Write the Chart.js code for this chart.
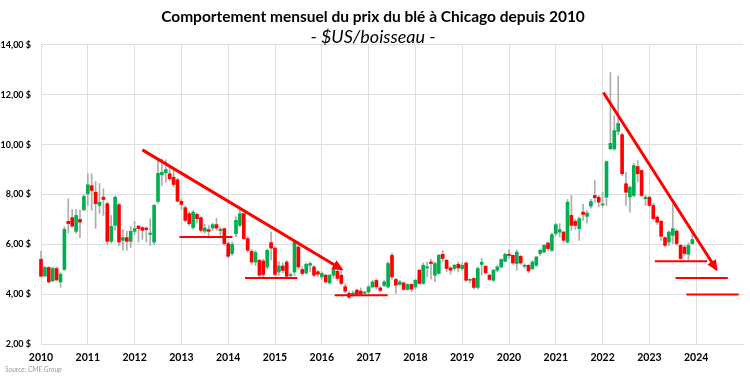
<!DOCTYPE html>
<html>
<head>
<meta charset="utf-8">
<script src="https://cdn.jsdelivr.net/npm/chart.js@4/dist/chart.umd.min.js"></script>
<style>
  html, body { margin: 0; padding: 0; background: #ffffff; }
  #wrap { position: relative; width: 750px; height: 376px; }
  #source { position: absolute; left: 5px; top: 365px; font-family: Lato, "Open Sans", sans-serif; font-style: italic; font-size: 7px; color: #9a9a9a; }
</style>
</head>
<body>
<div id="wrap">
  <canvas id="c" width="750" height="376"></canvas>
  <div id="source">Source: CME Group</div>
</div>
<script>
// Monthly candles, Jan 2010 .. Dec 2023 (month index 0 = Jan 2010)
const startYear = 2010;
const yearTicks = [2010, 2011, 2012, 2013, 2014, 2015, 2016, 2017, 2018, 2019, 2020, 2021, 2022, 2023, 2024];

const opens = [
  5.40,4.73,5.07,4.53,5.03,4.49,4.99,6.92,7.07,6.52,7.00,7.39,
  8.03,8.35,8.09,7.56,7.89,7.63,6.12,6.76,7.59,6.16,6.27,6.12,
  6.52,6.73,6.67,6.65,6.40,6.09,7.72,8.79,8.87,8.83,8.69,8.59,
  7.73,7.47,7.23,6.67,7.20,7.07,6.53,6.59,6.65,6.79,6.55,6.63,
  6.03,5.63,6.43,6.76,7.23,6.23,5.72,5.29,5.36,5.33,5.09,6.07,
  5.85,4.89,5.13,5.29,4.75,4.89,5.89,4.99,4.85,5.16,5.09,4.90,
  4.69,4.76,4.45,4.76,4.92,4.76,4.30,4.03,3.95,4.16,4.12,4.05,
  4.09,4.29,4.55,4.25,4.35,4.29,5.56,4.59,4.39,4.45,4.19,4.39,
  4.29,4.96,4.43,5.05,5.29,4.76,4.83,5.60,5.36,5.05,5.03,5.20,
  5.03,5.25,4.56,4.63,4.27,5.19,5.12,4.76,4.56,4.96,5.09,5.32,
  5.60,5.56,5.23,5.52,5.12,5.16,5.02,5.16,5.63,5.69,6.05,5.76,
  6.43,6.49,6.49,6.09,7.16,6.92,6.63,7.29,7.12,7.53,7.96,7.89,
  7.58,7.89,9.83,9.83,10.53,10.40,8.43,7.90,7.96,9.12,8.96,7.83,
  7.89,7.56,7.09,6.93,6.27,6.09,6.36,6.53,5.96,5.89,5.60,6.03
];
const closes = [
  4.72,5.07,4.49,5.03,4.57,4.80,6.60,6.83,6.73,7.16,6.89,7.92,
  8.39,8.16,7.63,7.69,7.80,6.12,6.72,7.89,6.09,6.27,6.12,6.52,
  6.63,6.63,6.56,6.59,6.45,7.56,8.85,8.89,9.00,8.63,8.40,7.73,
  7.60,6.96,6.83,7.29,7.03,6.56,6.65,6.52,6.79,6.65,6.60,6.03,
  5.52,6.00,6.96,7.23,6.23,5.76,5.29,5.67,4.76,4.79,5.76,5.85,
  4.79,5.13,4.95,4.72,4.78,6.09,5.09,4.83,5.20,5.23,4.76,4.80,
  4.83,4.49,4.76,4.99,4.63,4.43,4.12,3.87,4.05,4.00,4.00,4.07,
  4.29,4.49,4.29,4.15,4.49,5.23,4.69,4.36,4.49,4.19,4.39,4.20,
  4.56,4.43,5.16,5.10,5.23,5.23,5.56,5.43,5.03,4.96,5.16,5.05,
  5.16,4.56,4.59,4.27,5.03,5.28,4.85,4.59,4.96,5.09,5.39,5.60,
  5.55,5.25,5.69,5.25,5.16,4.93,5.29,5.49,5.76,5.96,5.83,6.39,
  6.79,6.59,6.16,7.69,6.76,6.76,7.03,7.20,7.25,7.72,7.87,7.69,
  7.62,9.32,10.05,10.56,10.85,8.83,8.09,8.29,9.16,8.83,7.96,7.89,
  7.56,7.03,6.89,6.32,5.96,6.49,6.63,6.03,5.43,5.63,5.96,6.19
];
const highs = [
  5.73,5.12,5.10,5.10,5.10,4.85,6.70,7.83,7.40,7.40,7.36,8.00,
  8.83,8.83,8.52,8.44,8.23,7.70,7.16,7.95,7.65,6.59,6.53,6.72,
  6.92,6.76,6.72,6.70,7.03,7.60,9.43,9.43,9.39,9.09,9.00,8.65,
  7.80,7.55,7.30,7.35,7.25,7.10,6.80,6.75,6.85,7.04,6.70,6.65,
  6.10,6.10,7.10,7.40,7.25,6.30,5.80,5.75,5.40,5.40,5.80,6.49,
  5.90,5.30,5.25,5.35,4.85,6.15,6.05,5.10,5.25,5.30,5.15,4.95,
  4.90,4.80,4.80,5.05,5.23,4.96,4.40,4.10,4.12,4.20,4.25,4.12,
  4.35,4.55,4.60,4.30,4.55,5.30,5.65,4.65,4.55,4.50,4.42,4.42,
  4.60,5.00,5.25,5.29,5.40,5.30,5.60,5.75,5.40,5.10,5.20,5.29,
  5.25,5.30,4.62,4.65,5.10,5.43,5.15,4.80,5.00,5.15,5.42,5.65,
  5.79,5.56,5.76,5.55,5.22,5.18,5.35,5.52,5.80,6.00,6.10,6.45,
  6.85,6.83,6.52,7.80,7.96,7.00,7.09,7.60,7.35,7.80,8.56,7.95,
  8.09,9.35,12.89,11.16,12.76,10.45,8.89,8.35,9.25,9.36,9.00,7.96,
  7.95,7.65,7.15,6.95,6.30,6.55,7.63,6.60,6.00,5.95,6.05,6.43
];
const lows = [
  4.69,4.70,4.45,4.50,4.55,4.28,4.95,6.45,6.69,6.44,6.27,7.35,
  7.56,7.36,6.64,7.24,7.16,6.00,6.05,6.56,5.95,5.76,5.76,5.87,
  6.40,6.09,6.20,6.09,5.96,6.00,7.65,8.36,8.49,8.56,8.30,7.70,
  7.40,6.90,6.75,6.60,6.85,6.50,6.45,6.25,6.55,6.56,6.35,5.95,
  5.45,5.55,6.30,6.70,6.20,5.70,5.20,5.15,4.70,4.70,5.00,5.36,
  4.75,4.75,4.85,4.68,4.70,4.75,5.00,4.75,4.80,4.90,4.70,4.70,
  4.60,4.45,4.40,4.65,4.55,4.36,4.05,3.83,3.90,3.95,3.95,3.95,
  4.00,4.25,4.20,4.09,4.30,4.25,4.60,4.03,4.35,4.15,4.15,4.10,
  4.20,4.40,4.40,4.69,4.60,4.50,4.80,5.30,4.90,4.80,4.95,4.89,
  4.95,4.50,4.45,4.20,4.20,4.76,4.85,4.55,4.50,4.90,5.05,5.30,
  5.43,5.20,4.96,5.20,5.05,4.85,4.98,5.10,5.55,5.65,5.75,5.70,
  6.35,6.29,6.10,6.05,6.56,6.60,6.16,6.96,6.85,7.45,7.69,7.50,
  7.49,7.56,9.80,9.76,10.40,8.75,7.56,7.29,7.90,8.50,7.90,7.56,
  7.50,7.00,6.80,6.16,5.90,5.95,6.03,5.95,5.40,5.55,5.36,6.00
];

// Annotation lines (x = month index from Jan 2010, y = $/bu)
const trendDown1 = [{x: 26.0, y: 9.79}, {x: 77.1, y: 5.00}];
const support2013 = [{x: 35.5, y: 6.29}, {x: 49.1, y: 6.29}];
const support2015 = [{x: 52.3, y: 4.65}, {x: 65.7, y: 4.65}];
const support2016 = [{x: 75.3, y: 3.96}, {x: 88.9, y: 3.96}];
const trendDown2 = [{x: 144.2, y: 12.09}, {x: 173.2, y: 4.99}];
const level1 = [{x: 157.4, y: 5.32}, {x: 170.8, y: 5.32}];
const level2 = [{x: 162.7, y: 4.65}, {x: 176.1, y: 4.65}];
const level3 = [{x: 165.5, y: 3.99}, {x: 178.9, y: 3.99}];

const GREEN = '#00b050', RED = '#ff0000', WICK = '#adadad', GRID = '#dedede';

const wickData = highs.map((h, i) => ({x: i, y: [lows[i], h]}));
const bodyData = opens.map((o, i) => {
  let a = o, b = closes[i];
  if (Math.abs(a - b) < 0.04) { const m = (a + b) / 2; a = m - 0.02; b = m + 0.02; }
  return {x: i, y: [a, b]};
});
const bodyColors = opens.map((o, i) => closes[i] >= o ? GREEN : RED);

const lineDs = (data, width, arrow) => ({
  type: 'line', data, borderColor: RED, backgroundColor: RED, borderWidth: width,
  pointRadius: 0, fill: false, order: 0, clip: false, arrow
});

const arrowPlugin = {
  id: 'arrowHeads',
  afterDatasetsDraw(chart) {
    const ctx = chart.ctx;
    chart.data.datasets.forEach((ds, di) => {
      if (!ds.arrow) return;
      const pts = chart.getDatasetMeta(di).data;
      const p0 = pts[pts.length - 2], p1 = pts[pts.length - 1];
      const ang = Math.atan2(p1.y - p0.y, p1.x - p0.x);
      const L = 9, W = 5;
      ctx.save();
      ctx.fillStyle = RED;
      ctx.beginPath();
      ctx.moveTo(p1.x + Math.cos(ang) * 2, p1.y + Math.sin(ang) * 2);
      ctx.lineTo(p1.x - Math.cos(ang) * L + Math.sin(ang) * W, p1.y - Math.sin(ang) * L - Math.cos(ang) * W);
      ctx.lineTo(p1.x - Math.cos(ang) * L - Math.sin(ang) * W, p1.y - Math.sin(ang) * L + Math.cos(ang) * W);
      ctx.closePath();
      ctx.fill();
      ctx.restore();
    });
  }
};

const lastIdx = (yearTicks[yearTicks.length - 1] - startYear + 1) * 12;

new Chart(document.getElementById('c'), {
  type: 'bar',
  data: {
    datasets: [
      lineDs(trendDown1, 3, true),
      lineDs(support2013, 2, false),
      lineDs(support2015, 2, false),
      lineDs(support2016, 2, false),
      lineDs(trendDown2, 3, true),
      lineDs(level1, 2, false),
      lineDs(level2, 2, false),
      lineDs(level3, 2, false),
      { type: 'bar', data: bodyData, backgroundColor: bodyColors, borderWidth: 0,
        barThickness: 3, grouped: false, order: 1, clip: false },
      { type: 'bar', data: wickData, backgroundColor: WICK, borderWidth: 0,
        barThickness: 1, grouped: false, order: 2, clip: false }
    ]
  },
  options: {
    responsive: false,
    animation: false,
    layout: { padding: { left: 0, right: 4, top: 0, bottom: 10 } },
    plugins: {
      legend: { display: false },
      tooltip: { enabled: false },
      title: {
        display: true,
        text: 'Comportement mensuel du prix du blé à Chicago depuis 2010',
        color: '#000000',
        font: { family: 'Lato', size: 15.5, weight: 'bold' },
        padding: { top: 8, bottom: 2.5 }
      },
      subtitle: {
        display: true,
        text: '- $US/boisseau -',
        color: '#000000',
        font: { family: 'Lato', size: 18, style: 'italic', lineHeight: 0.88 },
        padding: { top: 0, bottom: 0 }
      }
    },
    scales: {
      x: {
        type: 'linear',
        min: 0,
        max: lastIdx,
        offset: false,
        afterFit: s => { s.height = 22; },
        grid: {
          offset: false,
          drawTicks: false,
          color: c => (c.tick && c.tick.value > (yearTicks.length - 1) * 12) ? 'rgba(0,0,0,0)' : GRID
        },
        border: { color: GRID },
        ticks: {
          stepSize: 12,
          autoSkip: false,
          maxRotation: 0,
          padding: 7,
          color: '#000000',
          font: { family: 'Lato', size: 10.5, weight: 'bold' },
          callback: v => {
            const y = startYear + v / 12;
            return yearTicks.includes(y) ? String(y) : '';
          }
        }
      },
      y: {
        min: 2,
        max: 14,
        afterFit: s => { s.width = 41; },
        grid: { color: GRID, drawTicks: false },
        border: { color: GRID },
        ticks: {
          stepSize: 2,
          padding: 10,
          color: '#000000',
          font: { family: 'Lato', size: 9, weight: 'bold' },
          callback: v => v.toFixed(2).replace('.', ',') + ' $'
        }
      }
    }
  },
  plugins: [arrowPlugin]
});
</script>
</body>
</html>
